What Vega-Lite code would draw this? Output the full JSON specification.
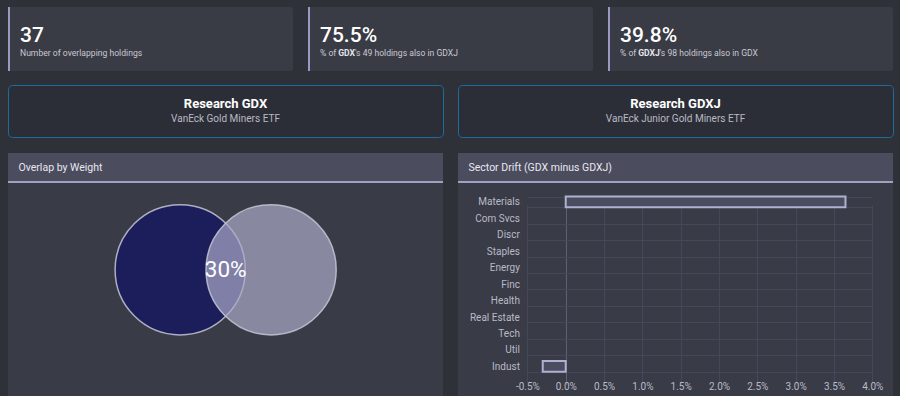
{
  "$schema": "https://vega.github.io/schema/vega-lite/v6.json",
  "background": "#2f3139",
  "padding": {"left": 7, "top": 7, "right": 8, "bottom": 0},
  "config": {
    "font": "Roboto",
    "view": {"stroke": null},
    "locale": {"number": {"decimal": ".", "thousands": ",", "grouping": [3], "currency": ["$", ""], "minus": "-"}}
  },
  "spacing": 15,
  "vconcat": [
    {
      "spacing": 13,
      "vconcat": [
        {
          "spacing": 15,
          "bounds": "flush",
          "hconcat": [
            {
              "width": 285, "height": 64,
              "view": {"fill": "#393b45", "cornerRadius": 2},
              "data": {"values": [{"metric": "37", "caption": "Number of overlapping holdings"}]},
              "layer": [
                {"mark": {"type": "rect", "color": "#9a9ac4"},
                 "encoding": {"x": {"datum": 0, "type": "quantitative", "scale": {"domain": [0, 1]}, "axis": null}, "x2": {"datum": 0.007},
                              "y": {"datum": 0, "type": "quantitative", "scale": {"domain": [0, 1]}, "axis": null}, "y2": {"datum": 1}}},
                {"mark": {"type": "text", "align": "left", "baseline": "alphabetic", "dx": -130.5, "dy": 2.7, "fontSize": 21, "fontWeight": 500, "color": "#ffffff"},
                 "encoding": {"text": {"field": "metric"}}},
                {"mark": {"type": "text", "align": "left", "baseline": "alphabetic", "dx": -130.5, "dy": 16.5, "fontSize": 8.6, "color": "#c9cad3"},
                 "encoding": {"text": {"field": "caption"}}}
              ]
            },
            {
              "width": 285, "height": 64,
              "view": {"fill": "#393b45", "cornerRadius": 2},
              "data": {"values": [{"metric": "75.5%", "lead": "% of", "fund": "GDX", "tail": "'s 49 holdings also in GDXJ"}]},
              "layer": [
                {"mark": {"type": "rect", "color": "#9a9ac4"},
                 "encoding": {"x": {"datum": 0, "type": "quantitative", "scale": {"domain": [0, 1]}, "axis": null}, "x2": {"datum": 0.007},
                              "y": {"datum": 0, "type": "quantitative", "scale": {"domain": [0, 1]}, "axis": null}, "y2": {"datum": 1}}},
                {"mark": {"type": "text", "align": "left", "baseline": "alphabetic", "dx": -130.5, "dy": 2.7, "fontSize": 21, "fontWeight": 500, "color": "#ffffff"},
                 "encoding": {"text": {"field": "metric"}}},
                {"mark": {"type": "text", "align": "left", "baseline": "alphabetic", "dx": -130.5, "dy": 16.5, "fontSize": 8.6, "color": "#c9cad3"},
                 "encoding": {"text": {"field": "lead"}}},
                {"mark": {"type": "text", "align": "left", "baseline": "alphabetic", "dx": -112.3, "dy": 16.5, "fontSize": 8.6, "fontWeight": "bold", "color": "#e4e4ea"},
                 "encoding": {"text": {"field": "fund"}}},
                {"mark": {"type": "text", "align": "left", "baseline": "alphabetic", "dx": -95.6, "dy": 16.5, "fontSize": 8.6, "color": "#c9cad3"},
                 "encoding": {"text": {"field": "tail"}}}
              ]
            },
            {
              "width": 285, "height": 64,
              "view": {"fill": "#393b45", "cornerRadius": 2},
              "data": {"values": [{"metric": "39.8%", "lead": "% of", "fund": "GDXJ", "tail": "'s 98 holdings also in GDX"}]},
              "layer": [
                {"mark": {"type": "rect", "color": "#9a9ac4"},
                 "encoding": {"x": {"datum": 0, "type": "quantitative", "scale": {"domain": [0, 1]}, "axis": null}, "x2": {"datum": 0.007},
                              "y": {"datum": 0, "type": "quantitative", "scale": {"domain": [0, 1]}, "axis": null}, "y2": {"datum": 1}}},
                {"mark": {"type": "text", "align": "left", "baseline": "alphabetic", "dx": -130.5, "dy": 2.7, "fontSize": 21, "fontWeight": 500, "color": "#ffffff"},
                 "encoding": {"text": {"field": "metric"}}},
                {"mark": {"type": "text", "align": "left", "baseline": "alphabetic", "dx": -130.5, "dy": 16.5, "fontSize": 8.6, "color": "#c9cad3"},
                 "encoding": {"text": {"field": "lead"}}},
                {"mark": {"type": "text", "align": "left", "baseline": "alphabetic", "dx": -112.3, "dy": 16.5, "fontSize": 8.6, "fontWeight": "bold", "color": "#e4e4ea"},
                 "encoding": {"text": {"field": "fund"}}},
                {"mark": {"type": "text", "align": "left", "baseline": "alphabetic", "dx": -90.8, "dy": 16.5, "fontSize": 8.6, "color": "#c9cad3"},
                 "encoding": {"text": {"field": "tail"}}}
              ]
            }
          ]
        },
        {
          "spacing": 15,
          "bounds": "flush",
          "hconcat": [
            {
              "width": 435, "height": 52,
              "view": {"fill": "#2c2e37", "stroke": "#1f6b9c", "strokeWidth": 1, "cornerRadius": 4},
              "data": {"values": [{"title": "Research GDX", "fund": "VanEck Gold Miners ETF"}]},
              "layer": [
                {"mark": {"type": "text", "dy": -7, "fontSize": 13, "fontWeight": "bold", "color": "#ffffff"}, "encoding": {"text": {"field": "title"}}},
                {"mark": {"type": "text", "dy": 7.5, "fontSize": 10, "color": "#b9bac5"}, "encoding": {"text": {"field": "fund"}}}
              ]
            },
            {
              "width": 435, "height": 52,
              "view": {"fill": "#2c2e37", "stroke": "#1f6b9c", "strokeWidth": 1, "cornerRadius": 4},
              "data": {"values": [{"title": "Research GDXJ", "fund": "VanEck Junior Gold Miners ETF"}]},
              "layer": [
                {"mark": {"type": "text", "dy": -7, "fontSize": 13, "fontWeight": "bold", "color": "#ffffff"}, "encoding": {"text": {"field": "title"}}},
                {"mark": {"type": "text", "dy": 7.5, "fontSize": 10, "color": "#b9bac5"}, "encoding": {"text": {"field": "fund"}}}
              ]
            }
          ]
        }
      ]
    },
    {
      "spacing": 15,
      "hconcat": [
        {
          "spacing": 0,
          "bounds": "flush",
          "vconcat": [
            {
              "width": 435, "height": 30,
              "view": {"fill": "#4b4c5e"},
              "title": {"text": "Overlap by Weight", "orient": "bottom", "anchor": "start", "frame": "group", "offset": -20.3, "dx": 10.5, "fontSize": 10.5, "fontWeight": "normal", "color": "#e8e8ee"},
              "data": {"values": [{"panel": "Overlap by Weight"}]},
              "mark": {"type": "rect", "color": "#a0a0c0"},
              "encoding": {
                "x": {"datum": 0, "type": "quantitative", "scale": {"domain": [0, 1]}, "axis": null}, "x2": {"datum": 1},
                "y": {"datum": 0, "type": "quantitative", "scale": {"domain": [0, 1]}, "axis": null}, "y2": {"datum": 0.067}
              }
            },
            {
              "width": 435, "height": 213,
              "view": {"fill": "#393b46"},
              "data": {"values": [
                {"set": "GDX"},
                {"set": "GDXJ"},
                {"set": "Overlap", "overlap": 0.30}
              ]},
              "encoding": {
                "x": {"field": "set", "type": "nominal", "scale": {"type": "point", "domain": ["GDX", "Overlap", "GDXJ"], "range": [172.2, 263.1], "padding": 0}, "axis": null},
                "y": {"datum": 0, "type": "quantitative", "scale": {"domain": [-1, 1], "range": [173.6, 0]}, "axis": null}
              },
              "layer": [
                {
                  "transform": [{"filter": "datum.set !== 'Overlap'"}],
                  "mark": {"type": "circle", "size": 16950, "opacity": 1, "stroke": "#c6c6d6", "strokeWidth": 1.5, "strokeOpacity": 0.85},
                  "encoding": {
                    "color": {"field": "set", "type": "nominal", "scale": {"domain": ["GDX", "GDXJ"], "range": ["#1c1d5b", "#a9a9c8"]}, "legend": null},
                    "fillOpacity": {"condition": {"test": "datum.set === 'GDXJ'", "value": 0.7}, "value": 1}
                  }
                },
                {
                  "transform": [{"filter": "datum.set === 'Overlap'"}],
                  "mark": {"type": "text", "fontSize": 22.5, "color": "#ffffff", "baseline": "middle"},
                  "encoding": {"text": {"field": "overlap", "type": "quantitative", "format": ".0%"}}
                }
              ]
            }
          ]
        },
        {
          "spacing": 0,
          "bounds": "flush",
          "vconcat": [
            {
              "width": 435, "height": 30,
              "view": {"fill": "#4b4c5e"},
              "title": {"text": "Sector Drift (GDX minus GDXJ)", "orient": "bottom", "anchor": "start", "frame": "group", "offset": -20.3, "dx": 10.5, "fontSize": 10.5, "fontWeight": "normal", "color": "#e8e8ee"},
              "data": {"values": [{"panel": "Sector Drift"}]},
              "mark": {"type": "rect", "color": "#a0a0c0"},
              "encoding": {
                "x": {"datum": 0, "type": "quantitative", "scale": {"domain": [0, 1]}, "axis": null}, "x2": {"datum": 1},
                "y": {"datum": 0, "type": "quantitative", "scale": {"domain": [0, 1]}, "axis": null}, "y2": {"datum": 0.067}
              }
            },
            {
              "width": 435, "height": 213,
              "view": {"fill": "#393b46"},
              "data": {"values": [
                {"sector": "Materials", "drift": 0.0365},
                {"sector": "Com Svcs", "drift": 0},
                {"sector": "Discr", "drift": 0},
                {"sector": "Staples", "drift": 0},
                {"sector": "Energy", "drift": 0},
                {"sector": "Finc", "drift": 0},
                {"sector": "Health", "drift": 0},
                {"sector": "Real Estate", "drift": 0},
                {"sector": "Tech", "drift": 0},
                {"sector": "Util", "drift": 0},
                {"sector": "Indust", "drift": -0.003}
              ]},
              "transform": [{"filter": "datum.drift !== 0"}],
              "mark": {"type": "bar", "fill": "#4a4d5f", "stroke": "#b0b1d2", "strokeWidth": 2},
              "encoding": {
                "y": {
                  "field": "sector", "type": "nominal", "sort": null,
                  "scale": {"domain": ["Materials", "Com Svcs", "Discr", "Staples", "Energy", "Finc", "Health", "Real Estate", "Tech", "Util", "Indust"], "range": [11.1, 191.2], "paddingInner": 0.35, "paddingOuter": 0.15},
                  "axis": {"title": null, "orient": "left", "offset": -69.4, "domain": false, "ticks": false, "tickSize": 0, "labelPadding": 8, "labelColor": "#b9bac6", "labelFontSize": 10, "grid": true, "gridColor": "#45475a", "tickBand": "extent", "labelLimit": 200}
                },
                "x": {
                  "field": "drift", "type": "quantitative",
                  "scale": {"domain": [-0.005, 0.04], "range": [69.4, 414.3], "nice": false},
                  "axis": {"title": null, "orient": "bottom", "offset": -21.8, "values": [-0.005, 0, 0.005, 0.01, 0.015, 0.02, 0.025, 0.03, 0.035, 0.04], "format": ".1%", "domain": false, "ticks": false, "tickSize": 0, "labelPadding": 7.3, "labelColor": "#b9bac6", "labelFontSize": 10, "labelFlush": false, "labelOverlap": false, "grid": true, "gridColor": {"condition": {"test": "datum.value === 0", "value": "#5e6072"}, "value": "#45475a"}}
                }
              }
            }
          ]
        }
      ]
    }
  ]
}
